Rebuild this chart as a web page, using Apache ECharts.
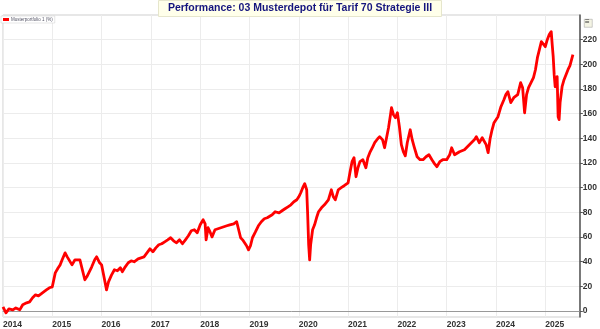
<!DOCTYPE html>
<html>
<head>
<meta charset="utf-8">
<script src="https://cdn.jsdelivr.net/npm/echarts@6/dist/echarts.min.js"></script>
<style>
html,body{margin:0;padding:0;background:#fff;}
#chart{width:600px;height:329px;}
</style>
</head>
<body>
<div id="chart"></div>
<script>
// Decimal years of the sampled points
const years2014_2016 = [2014.00,2014.06,2014.12,2014.20,2014.26,2014.34,2014.40,2014.48,2014.54,2014.60,2014.66,2014.72,2014.80,2014.88,2014.94,
  2015.00,2015.06,2015.12,2015.16,2015.20,2015.26,2015.30,2015.34,2015.40,2015.46,2015.50,2015.56,2015.60,2015.66,2015.70,2015.74,2015.80,2015.86,2015.90,2015.96,
  2016.00,2016.04,2016.10,2016.14,2016.20,2016.26,2016.32,2016.38,2016.42,2016.48,2016.54,2016.60,2016.66,2016.74,2016.80,2016.86,2016.92,2016.98];
const values2014_2016 = [3.2,-1.6,1.6,0.8,2.4,0.8,4.9,6.5,7.3,10.6,13.0,12.2,14.6,17.0,18.7,
  19.5,30.8,35.0,37.3,41.4,47.0,44.0,44.0,37.3,41.4,39.8,41.4,39.8,25.2,27.6,26.8,35.7,41.4,43.8,39.0,
  37.3,29.2,17.0,23.5,29.0,33.3,32.5,35.0,31.7,35.7,39.0,40.6,39.8,42.2,43.0,43.8,47.0,50.3];

const years2017_2019 = [2017.04,2017.10,2017.16,2017.22,2017.28,2017.34,2017.40,2017.46,2017.52,2017.58,2017.64,2017.70,2017.76,2017.82,2017.88,2017.94,
  2018.00,2018.06,2018.10,2018.12,2018.16,2018.20,2018.24,2018.30,2018.36,2018.42,2018.48,2018.54,2018.60,2018.68,2018.74,2018.78,2018.82,2018.86,2018.90,2018.94,2018.98,
  2019.02,2019.06,2019.12,2019.18,2019.24,2019.30,2019.36,2019.40,2019.46,2019.52,2019.60,2019.66,2019.72,2019.78,2019.84,2019.90,2019.96];
const values2017_2019 = [47.9,51.1,53.6,54.4,56.0,57.6,59.3,56.8,55.2,57.6,54.4,57.6,60.9,65.0,65.8,63.3,
  69.8,73.9,70.6,57.6,67.4,64.0,60.0,65.8,66.6,67.4,68.2,69.0,69.8,70.6,72.3,65.8,59.3,57.6,55.2,52.8,49.5,
  52.8,59.3,64.0,69.0,72.3,74.7,75.5,73.9,77.9,80.4,79.5,81.2,82.8,84.4,86.0,88.5,90.1];

const years2020_2022 = [2020.00,2020.04,2020.08,2020.12,2020.14,2020.16,2020.18,2020.20,2020.22,2020.24,2020.28,2020.32,2020.36,2020.40,2020.46,2020.52,2020.60,2020.66,2020.70,2020.74,2020.80,2020.86,2020.92,
  2021.00,2021.04,2021.08,2021.12,2021.16,2021.20,2021.24,2021.30,2021.36,2021.40,2021.44,2021.50,2021.54,2021.60,2021.64,2021.70,2021.74,2021.78,2021.82,2021.86,2021.88,2021.92,2021.96,
  2022.00,2022.04,2022.08,2022.12,2022.16,2022.20,2022.26,2022.30,2022.34,2022.40,2022.46,2022.52,2022.58,2022.64,2022.70,2022.74,2022.80,2022.86,2022.92];
const values2020_2022 = [92.5,95.8,99.9,103.1,104.7,98.2,78.0,53.6,41.4,53.6,65.8,69.8,75.5,80.4,83.6,86.0,90.1,98.2,92.5,90.1,98.2,99.9,101.5,
  103.9,112.8,121.0,124.2,108.8,116.1,121.0,122.6,116.1,124.2,128.3,133.1,136.4,139.6,141.3,138.7,132.3,140.4,148.6,159.1,164.8,159.1,156.7,
  160.7,149.4,134.8,129.1,125.8,136.4,146.9,138.8,133.1,125.0,122.6,122.6,125.0,126.6,122.6,120.1,116.9,121.0,122.6];

const years2023_2025 = [2023.00,2023.06,2023.10,2023.16,2023.20,2023.26,2023.30,2023.36,2023.40,2023.46,2023.50,2023.56,2023.60,2023.66,2023.72,2023.76,2023.80,2023.84,2023.88,2023.92,2023.96,
  2024.00,2024.04,2024.10,2024.16,2024.20,2024.24,2024.30,2024.36,2024.44,2024.50,2024.54,2024.58,2024.62,2024.66,2024.70,2024.76,2024.80,2024.84,2024.88,2024.92,2024.96,
  2025.00,2025.04,2025.08,2025.12,2025.14,2025.16,2025.18,2025.20,2025.22,2025.24,2025.26,2025.28,2025.30,2025.32,2025.34,2025.38,2025.42,2025.46,2025.50,2025.52,2025.56];
const values2023_2025 = [122.6,126.6,132.3,126.6,125.0,129.1,130.7,130.7,132.3,134.8,136.4,138.7,141.3,136.4,140.4,141.3,134.8,128.3,139.6,146.9,152.6,
  155.1,157.5,165.6,171.3,175.4,177.8,168.9,172.9,175.4,185.1,181.0,160.7,175.4,181.0,181.8,189.2,195.6,205.4,211.9,218.4,220.0,
  214.3,220.0,224.1,226.5,216.0,206.2,191.6,181.8,187.5,190.0,157.5,155.1,168.9,175.4,181.8,187.5,191.6,195.6,198.9,197.3,207.8];

const yTickValues = [0,20,40,60,80,100,120,140,160,180,200,220];
const xTickYears = [2014,2015,2016,2017,2018,2019,2020,2021,2022,2023,2024,2025];
const seriesName = 'Musterportfolio 1 (%)';
const titleText = 'Performance: 03 Musterdepot für Tarif 70 Strategie III';

const allYears = [].concat(years2014_2016, years2017_2019, years2020_2022, years2023_2025);
const allValues = [].concat(values2014_2016, values2017_2019, values2020_2022, values2023_2025);
const seriesData = allYears.map((y, i) => [y, allValues[i]]);

const chart = echarts.init(document.getElementById('chart'), null, {renderer: 'canvas'});
chart.setOption({
  animation: false,
  backgroundColor: '#ffffff',
  title: {
    text: titleText,
    left: 'center',
    top: 0,
    padding: [3, 10, 3, 10],
    backgroundColor: '#ffffea',
    borderColor: '#e6e6cc',
    borderWidth: 1,
    textStyle: {color: '#15157e', fontWeight: 'bold', fontSize: 10.5, fontFamily: 'Liberation Sans'}
  },
  legend: {
    left: 1,
    top: 16,
    padding: [1, 2, 1, 2],
    itemWidth: 6,
    itemHeight: 3,
    itemGap: 2,
    icon: 'rect',
    borderColor: '#cccccc',
    borderWidth: 0.5,
    backgroundColor: '#ffffff',
    textStyle: {fontSize: 4.5, color: '#556', padding: [0, 0, 0, -3]},
    data: [seriesName]
  },
  grid: {
    left: 0, right: 15, top: 15, bottom: 12,
    show: true, borderColor: '#cfcfcf', borderWidth: 1
  },
  xAxis: {
    type: 'value',
    min: 2014,
    max: 2025.7,
    interval: 1,
    axisLine: {show: true, lineStyle: {color: '#999', width: 1}},
    axisTick: {show: false},
    splitLine: {show: true, lineStyle: {color: '#ececec', width: 1}},
    axisLabel: {
      align: 'left',
      margin: 3,
      showMaxLabel: false,
      fontSize: 8.5,
      fontWeight: 'bold',
      color: '#333',
      fontFamily: 'Liberation Sans',
      formatter: v => (xTickYears.indexOf(Math.round(v)) >= 0 && Math.abs(v - Math.round(v)) < 1e-6) ? String(Math.round(v)) : ''
    }
  },
  yAxis: {
    type: 'value',
    position: 'right',
    min: -5,
    max: 240,
    axisLine: {show: true, lineStyle: {color: '#555', width: 1.5}},
    axisTick: {show: true, length: 3, customValues: yTickValues, lineStyle: {color: '#555'}},
    splitLine: {show: true, lineStyle: {color: '#ececec', width: 1}},
    axisLabel: {
      customValues: yTickValues,
      margin: 3,
      fontSize: 8.5,
      fontWeight: 'bold',
      color: '#333',
      fontFamily: 'Liberation Sans'
    }
  },
  graphic: [
    {type: 'rect', left: 584, top: 19, shape: {width: 8, height: 8}, style: {fill: '#f4f4e4', stroke: '#999', lineWidth: 0.5}},
    {type: 'text', left: 585, top: 18, style: {text: '≡', fontSize: 8, fill: '#333'}}
  ],
  series: [{
    name: seriesName,
    type: 'line',
    showSymbol: false,
    data: seriesData,
    lineStyle: {color: '#ff0000', width: 2.8, join: 'round'},
    itemStyle: {color: '#ff0000'}
  }]
});
</script>
</body>
</html>
